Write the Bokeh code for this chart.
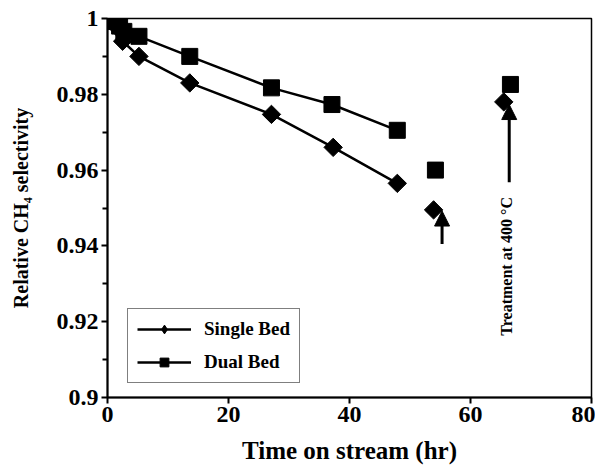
import math
from bokeh.plotting import figure
from bokeh.models import (Range1d, FixedTicker, NumeralTickFormatter, Legend, LegendItem,
                          Arrow, NormalHead, Label)
from bokeh.embed import file_html
from bokeh.resources import INLINE

# ---- data ----
single_t = [0, 1, 2, 2.5, 5.2, 13.6, 27.1, 37.3, 47.9]
single_s = [1.0, 0.999, 0.997, 0.994, 0.990, 0.983, 0.9747, 0.966, 0.9565]
dual_t = [0, 1, 2, 2.7, 5.2, 13.6, 27.1, 37.1, 47.9]
dual_s = [1.0, 0.9992, 0.998, 0.9966, 0.9953, 0.990, 0.9817, 0.9773, 0.9705]
single_after_t = [53.9, 65.5]
single_after_s = [0.9495, 0.978]
dual_after_t = [54.2, 66.6]
dual_after_s = [0.960, 0.9826]

arrow_x = [55.3, 66.4]
arrow_y_start = [0.9405, 0.9568]
arrow_y_end = [0.9492, 0.9773]

x_ticks = [0, 20, 40, 60, 80]
y_ticks = [0.9, 0.92, 0.94, 0.96, 0.98, 1.0]
y_minor = [0.91, 0.93, 0.95, 0.97, 0.99]

FONT = "Liberation Serif"

p = figure(frame_width=484, frame_height=379, output_backend="svg", toolbar_location=None,
           x_range=Range1d(0, 80), y_range=Range1d(0.9, 1.0),
           min_border_left=107, min_border_right=4, min_border_top=18, min_border_bottom=64)
p.background_fill_color = "white"
p.border_fill_color = "white"
p.outline_line_color = "black"
p.outline_line_width = 1.5
p.grid.visible = False

p.xaxis.ticker = FixedTicker(ticks=x_ticks)
p.yaxis.ticker = FixedTicker(ticks=y_ticks, minor_ticks=y_minor)
p.yaxis.formatter = NumeralTickFormatter(format="0.[00]")

for ax in (p.xaxis[0], p.yaxis[0]):
    ax.axis_line_width = 2
    ax.axis_line_color = "black"
    ax.major_tick_line_width = 2
    ax.major_tick_in = 0
    ax.major_tick_out = 6
    ax.minor_tick_line_width = 2
    ax.minor_tick_in = 0
    ax.minor_tick_out = 5
    ax.major_label_text_font = FONT
    ax.major_label_text_font_style = "bold"
    ax.major_label_text_font_size = "24px"
    ax.major_label_text_color = "black"
    ax.axis_label_text_font = FONT
    ax.axis_label_text_font_style = "bold"
    ax.axis_label_text_color = "black"
p.xaxis.minor_tick_out = 0
p.xaxis.major_label_standoff = 3
p.yaxis.major_label_standoff = 3
p.xaxis.axis_label = "Time on stream (hr)"
p.xaxis.axis_label_text_font_size = "25px"
p.xaxis.axis_label_standoff = 12
p.yaxis.axis_label = "Relative CH\u2084 selectivity"
p.yaxis.axis_label_text_font_size = "20px"
p.yaxis.axis_label_standoff = 22

l1 = p.line(single_t, single_s, line_color="black", line_width=2.5)
leg_d = p.scatter(single_t[:1], single_s[:1], marker="diamond", size=12,
                  fill_color="black", line_color="black")
s1 = p.scatter(single_t, single_s, marker="square", angle=math.pi / 4, size=13,
               fill_color="black", line_color="black")
l2 = p.line(dual_t, dual_s, line_color="black", line_width=2.5)
s2 = p.scatter(dual_t, dual_s, marker="square", size=16, fill_color="black", line_color="black")
p.scatter(single_after_t, single_after_s, marker="square", angle=math.pi / 4, size=13,
          fill_color="black", line_color="black")
p.scatter(dual_after_t, dual_after_s, marker="square", size=16, fill_color="black", line_color="black")

for xa, ya0, ya1 in zip(arrow_x, arrow_y_start, arrow_y_end):
    p.add_layout(Arrow(end=NormalHead(size=15, fill_color="black", line_color="black"),
                       x_start=xa, y_start=ya0, x_end=xa, y_end=ya1,
                       line_width=3, line_color="black"))

p.add_layout(Label(x=66.0, y=0.9346, text="Treatment at 400 \u00b0C", angle=math.pi / 2,
                   text_align="center", text_baseline="middle", text_font=FONT,
                   text_font_style="bold", text_font_size="16px", text_color="black"))

legend = Legend(items=[LegendItem(label="Single Bed", renderers=[l1, leg_d]),
                       LegendItem(label="Dual Bed", renderers=[l2, s2])],
                location=(20, 14), margin=0, padding=9, spacing=11,
                glyph_width=54, glyph_height=22, label_standoff=13,
                label_text_font=FONT, label_text_font_style="bold",
                label_text_font_size="19px", label_text_color="black",
                border_line_color="black", border_line_width=1.2,
                background_fill_color="white", background_fill_alpha=1)
p.add_layout(legend, "center")

open("out.html", "w").write(file_html(p, INLINE))
